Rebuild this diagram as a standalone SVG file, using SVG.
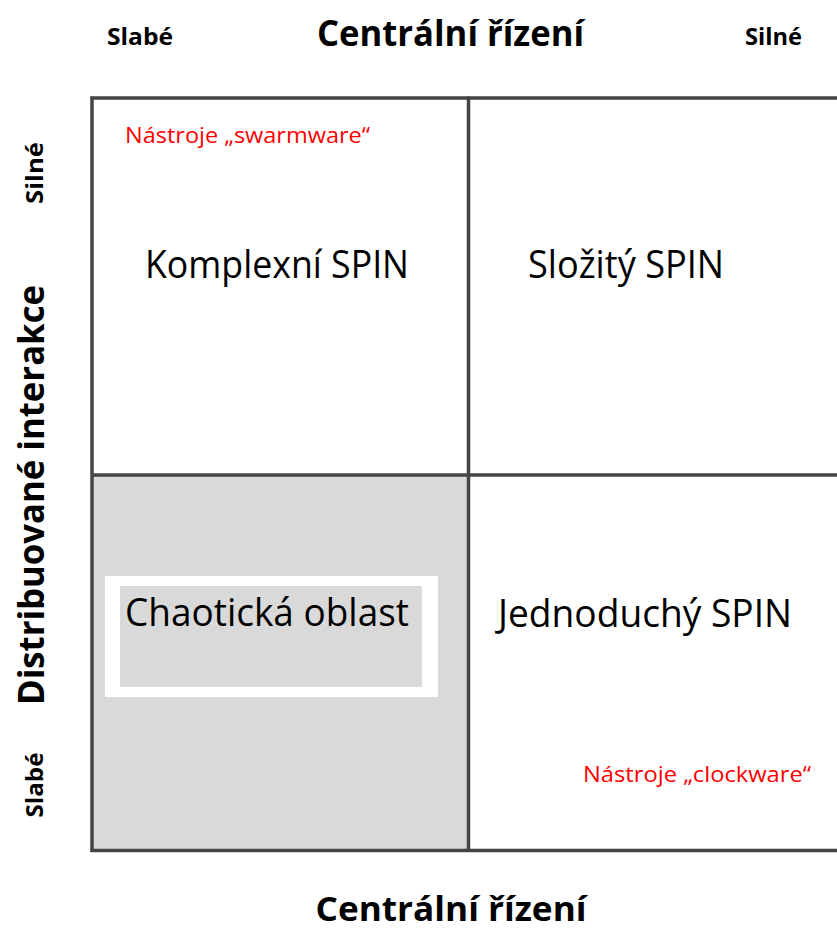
<svg xmlns="http://www.w3.org/2000/svg" width="837" height="933" viewBox="0 0 837 933">
  <style>
    .grid { stroke: #454545; stroke-width: 3.5; fill: none; }
    .axis { font-family: "Open Sans", "Noto Sans", sans-serif; font-weight: bold; fill: #000; }
    .quad { font-family: "Open Sans", "Noto Sans", sans-serif; font-size: 39px; fill: #000; }
    .tool { font-family: "Open Sans", "Noto Sans", sans-serif; font-size: 22px; fill: #ff0000; }
  </style>
  <rect width="837" height="933" fill="#ffffff"/>

  <!-- shaded lower-left quadrant -->
  <rect x="92" y="475" width="376.5" height="375.5" fill="#d9d9d9"/>

  <!-- quadrant grid -->
  <g id="connectors" class="grid">
    <line x1="90.5" y1="98" x2="840" y2="98"/>
    <line x1="90.5" y1="850.5" x2="840" y2="850.5"/>
    <line x1="92" y1="96.5" x2="92" y2="852"/>
    <line x1="468.5" y1="96.5" x2="468.5" y2="852"/>
    <line x1="92" y1="475" x2="840" y2="475"/>
  </g>

  <!-- horizontal axis -->
  <g id="axis-top">
    <text class="axis" x="450.5" y="46" font-size="36" text-anchor="middle" textLength="267" lengthAdjust="spacingAndGlyphs">Centrální řízení</text>
    <text class="axis" x="107" y="45" font-size="24" textLength="66" lengthAdjust="spacingAndGlyphs">Slabé</text>
    <text class="axis" x="745" y="45" font-size="24" textLength="57" lengthAdjust="spacingAndGlyphs">Silné</text>
  </g>
  <g id="axis-bottom">
    <text class="axis" x="451" y="921" font-size="34" text-anchor="middle" textLength="271" lengthAdjust="spacingAndGlyphs">Centrální řízení</text>
  </g>

  <!-- vertical axis -->
  <g id="axis-left">
    <text class="axis" transform="translate(44 495) rotate(-90)" x="0" y="0" font-size="36" text-anchor="middle" textLength="420" lengthAdjust="spacingAndGlyphs">Distribuované interakce</text>
    <text class="axis" transform="translate(43 173) rotate(-90)" x="0" y="0" font-size="24" text-anchor="middle" textLength="62" lengthAdjust="spacingAndGlyphs">Silné</text>
    <text class="axis" transform="translate(43 785) rotate(-90)" x="0" y="0" font-size="24" text-anchor="middle" textLength="65" lengthAdjust="spacingAndGlyphs">Slabé</text>
  </g>

  <!-- quadrants -->
  <g id="complex-spin">
    <text class="tool" x="125" y="143" textLength="245" lengthAdjust="spacingAndGlyphs">Nástroje „swarmware“</text>
    <text class="quad" x="145" y="278" textLength="264" lengthAdjust="spacingAndGlyphs">Komplexní SPIN</text>
  </g>
  <g id="complicated-spin">
    <text class="quad" x="528" y="278" textLength="196" lengthAdjust="spacingAndGlyphs">Složitý SPIN</text>
  </g>
  <g id="chaotic-region">
    <rect x="105" y="576" width="333" height="121" fill="#ffffff"/>
    <rect x="120" y="586" width="302" height="101" fill="#d9d9d9"/>
    <text class="quad" x="125" y="626" textLength="284" lengthAdjust="spacingAndGlyphs">Chaotická oblast</text>
  </g>
  <g id="simple-spin">
    <text class="quad" x="498" y="627" textLength="294" lengthAdjust="spacingAndGlyphs">Jednoduchý SPIN</text>
    <text class="tool" x="583" y="782" textLength="228" lengthAdjust="spacingAndGlyphs">Nástroje „clockware“</text>
  </g>
</svg>
